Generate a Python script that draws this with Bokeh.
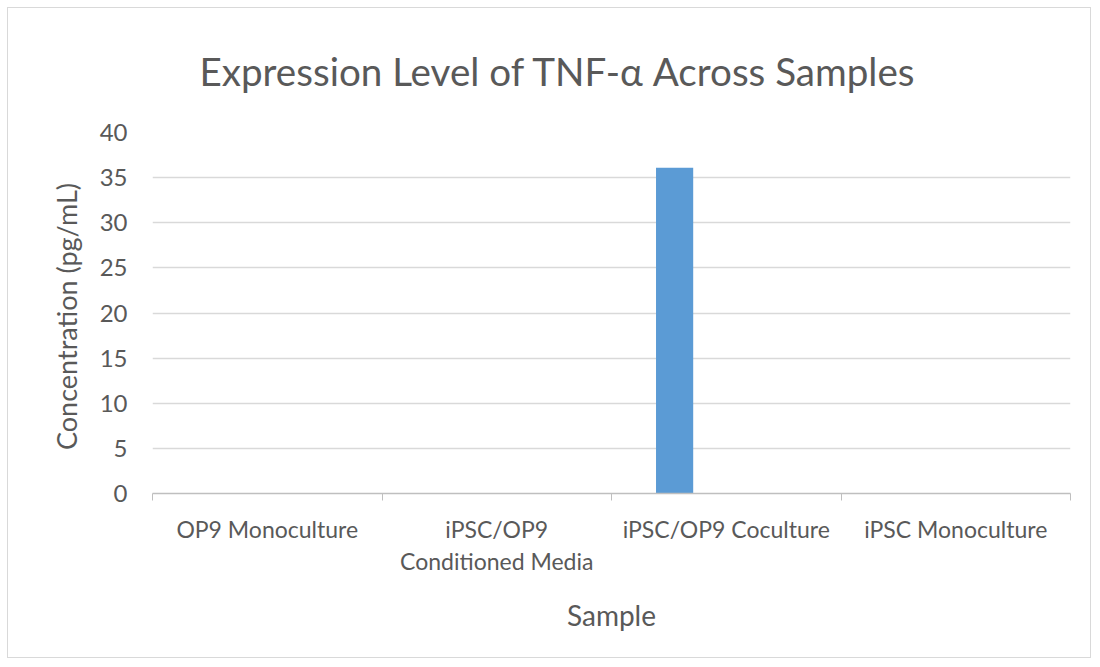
from bokeh.plotting import figure
from bokeh.models import FixedTicker, Range1d, ColumnDataSource, Title
from bokeh.embed import file_html
from bokeh.resources import INLINE

# ---- data ----
samples = ["OP9 Monoculture", "iPSC/OP9\nConditioned Media",
           "iPSC/OP9 Coculture", "iPSC Monoculture"]
concentration = [0.0, 0.0, 36.1, 0.0]
y_ticks = [0, 5, 10, 15, 20, 25, 30, 35, 40]
title_text = "Expression Level of TNF-α Across Samples"
x_title = "Sample"
y_title = "Concentration  (pg/mL)"

# ---- style ----
FONT = "Lato"
TEXT = "#595959"
GRID = "#d9d9d9"
BAR = "#5b9bd5"
bar_shift = 0.275   # bar position inside its category (Excel series slot)
bar_width = 0.162

n = len(samples)
centers = [i + 0.5 for i in range(n)]
src = ColumnDataSource(dict(x=[c + bar_shift - 0.5 for c in centers],
                            top=concentration))

p = figure(width=1084, height=651, output_backend="svg", toolbar_location=None,
           x_range=Range1d(0, n), y_range=Range1d(y_ticks[0], y_ticks[-1]),
           min_border_left=144, min_border_right=22, min_border_top=124,
           min_border_bottom=166, title=None)
p.styles = {"border": "1px solid #d9d9d9", "margin": "7px 0 0 7px"}
p.outline_line_color = None
p.background_fill_color = "white"
p.border_fill_color = "white"

p.vbar(x="x", top="top", width=bar_width, bottom=0, source=src,
       fill_color=BAR, line_color=None)

# title
t = Title(text=title_text, align="left", offset=47, standoff=74,
          vertical_align="top",
          text_font=FONT, text_font_size="38.6px", text_font_style="normal",
          text_color=TEXT)
p.add_layout(t, "above")

# x axis
xa = p.xaxis[0]
xa.ticker = FixedTicker(ticks=centers, minor_ticks=list(range(n + 1)))
xa.major_label_overrides = {c: s for c, s in zip(centers, samples)}
xa.major_tick_line_color = None
xa.major_tick_out = 0
xa.major_tick_in = 0
xa.minor_tick_line_color = "#bfbfbf"
xa.minor_tick_out = 7
xa.minor_tick_in = 0
xa.axis_line_color = "#bfbfbf"
xa.axis_line_width = 1.5
xa.major_label_text_font = FONT
xa.major_label_text_font_size = "23px"
xa.major_label_text_color = TEXT
xa.major_label_text_line_height = 1.15
xa.major_label_standoff = 14
xa.axis_label = x_title
xa.axis_label_text_font = FONT
xa.axis_label_text_font_size = "28px"
xa.axis_label_text_font_style = "normal"
xa.axis_label_text_color = TEXT
xa.axis_label_standoff = 20

# y axis
ya = p.yaxis[0]
ya.ticker = FixedTicker(ticks=y_ticks)
ya.axis_line_color = None
ya.major_tick_line_color = None
ya.minor_tick_line_color = None
ya.major_label_text_font = FONT
ya.major_label_text_font_size = "24px"
ya.major_label_text_color = TEXT
ya.major_label_standoff = 19
ya.axis_label = y_title
ya.axis_label_text_font = FONT
ya.axis_label_text_font_size = "27px"
ya.axis_label_text_font_style = "normal"
ya.axis_label_text_color = TEXT
ya.axis_label_standoff = 14

p.xgrid.visible = False
p.ygrid.ticker = FixedTicker(ticks=y_ticks)
p.ygrid.grid_line_color = GRID
p.ygrid.grid_line_width = 1.5

open("out.html", "w").write(file_html(p, INLINE))
